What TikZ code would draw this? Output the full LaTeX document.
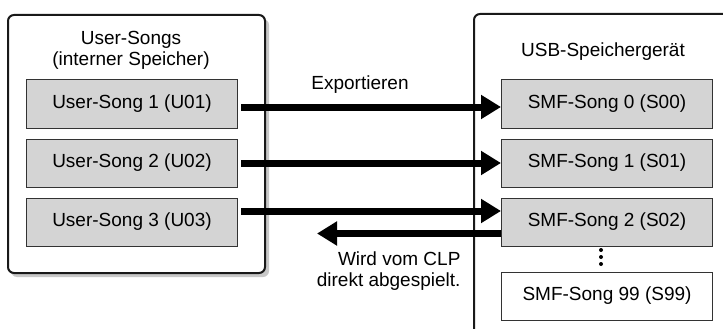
\documentclass[tikz,border=0pt]{standalone}
\usepackage{fontspec}
\setmainfont{Liberation Sans}
\usetikzlibrary{arrows.meta,positioning}
\definecolor{boxgray}{RGB}{212,212,212}
\definecolor{shadowgray}{RGB}{200,200,200}
\tikzset{
  songbox/.style={draw=black!80,line width=1pt,fill=boxgray,minimum width=211pt,minimum height=48pt,inner sep=0pt},
  lastbox/.style={songbox,fill=white},
  bigarrow/.style={line width=7pt,-{Triangle[length=20pt,width=23pt]}},
  panel/.style={draw=black!90,line width=2pt,rounded corners=6pt,fill=white}
}
\begin{document}
\begin{tikzpicture}[x=1pt,y=-1pt,every node/.style={font=\fontsize{19}{21}\selectfont}]
\useasboundingbox (0,0) rectangle (723,329);
\clip (0,0) rectangle (723,329);
% panels
\fill[shadowgray,rounded corners=6pt] (11,19) rectangle (269,277);
\draw[panel] (8,15) rectangle (265,273);
\draw[panel] (474,14) rectangle (760,360);
\node[align=center] (usertitle) at (131,50) {User-Songs\\(interner Speicher)};
\node (usbtitle) at (603,52) {USB-Speichergerät};
% song boxes
\node[songbox] (u1) at (132,104) {User-Song 1 (U01)};
\node[songbox,below=10pt of u1] (u2) {User-Song 2 (U02)};
\node[songbox,below=10pt of u2] (u3) {User-Song 3 (U03)};
\node[songbox] (s0) at (607,104) {SMF-Song 0 (S00)};
\node[songbox,below=10pt of s0] (s1) {SMF-Song 1 (S01)};
\node[songbox,below=10pt of s1] (s2) {SMF-Song 2 (S02)};
\node[lastbox] (s99) at (607,296) {SMF-Song 99 (S99)};
\foreach \yy in {250,257,264} \fill (601,\yy) circle (2pt);
% arrows
\draw[bigarrow] ([xshift=3pt,yshift=-3pt]u1.east) -- ([yshift=-3pt]s0.west);
\draw[bigarrow] ([xshift=3pt]u2.east) -- (s1.west);
\draw[bigarrow] ([xshift=3pt,yshift=11pt]u3.east) -- ([yshift=11pt]s2.west);
\coordinate (playend) at (317,233.5);
\draw[bigarrow] (s2.west |- playend) -- (playend);
\node (export) at (360,85) {Exportieren};
\node[align=right,anchor=east] (playnote) at (464,271) {Wird vom CLP\\direkt abgespielt.};
\end{tikzpicture}
\end{document}
